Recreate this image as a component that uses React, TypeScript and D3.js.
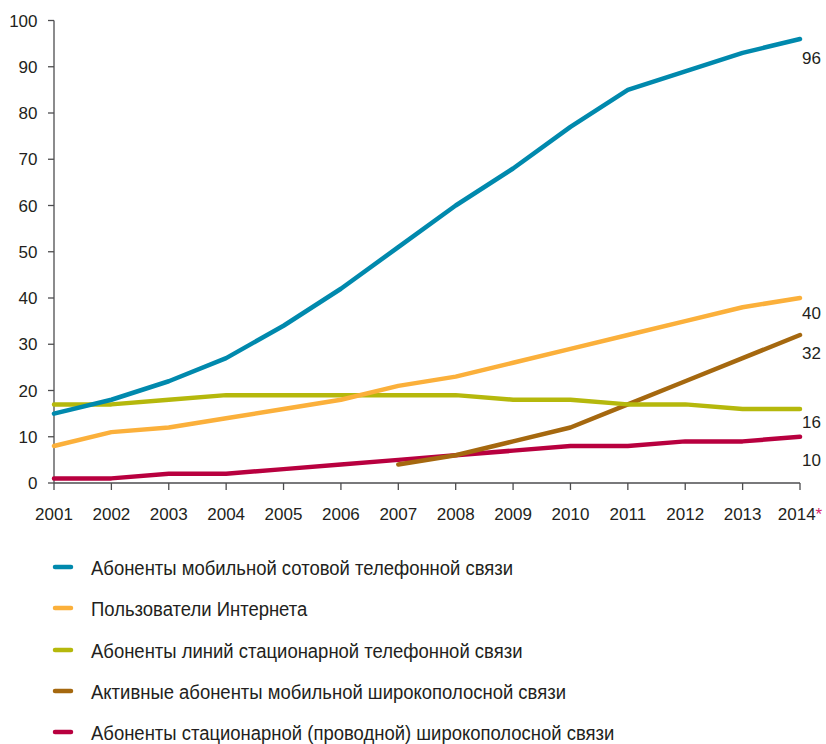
import React from "react";
import * as d3 from "d3";

const years = [2001, 2002, 2003, 2004, 2005, 2006, 2007, 2008, 2009, 2010, 2011, 2012, 2013, 2014];
const yTicks = [0, 10, 20, 30, 40, 50, 60, 70, 80, 90, 100];

const mobileCellular = [15, 18, 22, 27, 34, 42, 51, 60, 68, 77, 85, 89, 93, 96];
const internetUsers = [8, 11, 12, 14, 16, 18, 21, 23, 26, 29, 32, 35, 38, 40];
const fixedTelephone = [17, 17, 18, 19, 19, 19, 19, 19, 18, 18, 17, 17, 16, 16];
const mobileBroadband = [null, null, null, null, null, null, 4, 6, 9, 12, 17, 22, 27, 32];
const fixedBroadband = [1, 1, 2, 2, 3, 4, 5, 6, 7, 8, 8, 9, 9, 10];

const seriesNames = [
  "Абоненты мобильной сотовой телефонной связи",
  "Пользователи Интернета",
  "Абоненты линий стационарной телефонной связи",
  "Активные абоненты мобильной широкополосной связи",
  "Абоненты стационарной (проводной) широкополосной связи",
];
const seriesValues = [mobileCellular, internetUsers, fixedTelephone, mobileBroadband, fixedBroadband];
const seriesColors = ["#0089ad", "#fbb03b", "#b5b80c", "#a5680f", "#b8003f"];
const endLabels = ["96", "40", "16", "32", "10"];
const endLabelDy = [19, 15, 13, 18, 23];
const drawOrder = [4, 3, 2, 1, 0];

const FONT = "'Liberation Sans', Arial, sans-serif";

export default function App() {
  const left = 54, right = 800, top = 20.5, bottom = 483;
  const x = d3.scaleLinear().domain([2001, 2014]).range([left, right]);
  const y = d3.scaleLinear().domain([0, 100]).range([bottom, top]);
  const line = d3
    .line<number | null>()
    .defined((d) => d != null)
    .x((_, i) => x(years[i]))
    .y((d) => y(d as number));

  const legendY = [567, 608, 650, 691, 732];

  return (
    <svg
      width={826}
      height={744}
      style={{ position: "absolute", left: 0, top: 0, background: "#fff" }}
      fontFamily={FONT}
    >
      {/* y axis */}
      <line x1={left} x2={left} y1={top} y2={bottom} stroke="#4d4d4f" strokeWidth={1.3} />
      {yTicks.map((t) => (
        <g key={t}>
          <line x1={left - 6} x2={left} y1={y(t)} y2={y(t)} stroke="#4d4d4f" strokeWidth={1.3} />
          <text x={37.5} y={y(t)} dy="0.36em" textAnchor="end" fontSize={17} fill="#231f20">
            {t}
          </text>
        </g>
      ))}
      {/* x axis */}
      <line x1={left} x2={right} y1={bottom} y2={bottom} stroke="#4d4d4f" strokeWidth={1.3} />
      {years.map((yr) => (
        <g key={yr}>
          <line x1={x(yr)} x2={x(yr)} y1={bottom} y2={bottom + 7} stroke="#4d4d4f" strokeWidth={1.3} />
          <text x={x(yr)} y={519.5} textAnchor="middle" fontSize={17} fill="#231f20">
            {yr}
            {yr === 2014 ? <tspan fill="#d4266a">*</tspan> : null}
          </text>
        </g>
      ))}
      {/* lines */}
      {drawOrder.map((s) => (
        <path
          key={s}
          d={line(seriesValues[s]) || ""}
          fill="none"
          stroke={seriesColors[s]}
          strokeWidth={4.5}
          strokeLinecap="round"
          strokeLinejoin="round"
        />
      ))}
      {/* end labels */}
      {seriesValues.map((vals, s) => (
        <text
          key={s}
          x={802}
          y={y(vals[vals.length - 1] as number) + endLabelDy[s]}
          dy="0.36em"
          fontSize={17}
          fill="#231f20"
        >
          {endLabels[s]}
        </text>
      ))}
      {/* legend */}
      {seriesNames.map((n, i) => (
        <g key={n}>
          <line
            x1={55}
            x2={71}
            y1={legendY[i]}
            y2={legendY[i]}
            stroke={seriesColors[i]}
            strokeWidth={4.5}
            strokeLinecap="round"
          />
          <text
            transform={`translate(91,${legendY[i]}) scale(0.88,1)`}
            dy="0.36em"
            fontSize={21}
            fill="#231f20"
          >
            {n}
          </text>
        </g>
      ))}
    </svg>
  );
}
